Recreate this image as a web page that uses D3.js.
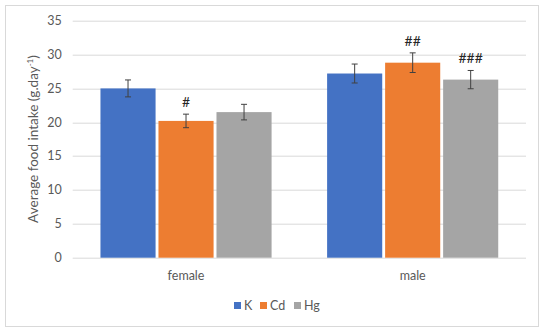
<!DOCTYPE html>
<html>
<head>
<meta charset="utf-8">
<script src="https://cdn.jsdelivr.net/npm/d3@7"></script>
<style>
  body { margin: 0; background: #fff; }
  text { font-family: Lato, "Open Sans", sans-serif; fill: #595959; }
</style>
</head>
<body>
<svg class="chart" width="550" height="334"></svg>
<script>
const groups = ['female', 'male'];
const series = ['K', 'Cd', 'Hg'];
const colors = ['#4472C4', '#ED7D31', '#A5A5A5'];
const means = {
  K:  [25.0, 27.2],
  Cd: [20.2, 28.8],
  Hg: [21.5, 26.3]
};
const errs = {
  K:  [1.25, 1.4],
  Cd: [1.0, 1.45],
  Hg: [1.15, 1.35]
};
const marks = {
  K:  ['', ''],
  Cd: ['#', '##'],
  Hg: ['', '###']
};
const yTicks = [0, 5, 10, 15, 20, 25, 30, 35];

const svg = d3.select('svg.chart');
const width = 550;
const height = 334;

// outer frame
svg.append('rect')
  .attr('x', 5.5).attr('y', 5.5)
  .attr('width', 533).attr('height', 321)
  .attr('fill', 'none')
  .attr('stroke', '#d9d9d9');

const margin = { top: 20.7, right: 24, bottom: 76.3, left: 72.7 };
const innerWidth = width - margin.left - margin.right;
const innerHeight = height - margin.top - margin.bottom;

const g = svg.append('g')
  .attr('transform', `translate(${margin.left}, ${margin.top})`);

const xScale = d3.scaleBand()
  .domain(groups)
  .range([0, innerWidth]);

const xInner = d3.scaleBand()
  .domain(series)
  .range([0, xScale.bandwidth() * 0.755])
  .paddingInner(0.05);

const yScale = d3.scaleLinear()
  .domain([0, 35])
  .range([innerHeight, 0]);

// gridlines
g.append('g')
  .selectAll('line').data(yTicks)
  .enter().append('line')
    .attr('x1', 0).attr('x2', innerWidth)
    .attr('y1', d => Math.round(yScale(d)) + 0.5)
    .attr('y2', d => Math.round(yScale(d)) + 0.5)
    .attr('stroke', '#d9d9d9');

// y tick labels
g.append('g')
  .selectAll('text').data(yTicks)
  .enter().append('text')
    .attr('x', -11)
    .attr('y', d => yScale(d))
    .attr('dy', '0.35em')
    .attr('text-anchor', 'end')
    .attr('font-size', 12.5)
    .text(d => d);

const groupOffset = (xScale.bandwidth() - xInner.range()[1]) / 2;

const rows = [];
groups.forEach((grp, i) => {
  series.forEach((s, j) => {
    rows.push({ group: grp, series: s, color: colors[j], value: means[s][i], err: errs[s][i], mark: marks[s][i] });
  });
});

const bx = d => xScale(d.group) + groupOffset + xInner(d.series);

g.selectAll('rect.bar').data(rows)
  .enter().append('rect')
    .attr('class', 'bar')
    .attr('x', bx)
    .attr('y', d => yScale(d.value))
    .attr('width', xInner.bandwidth())
    .attr('height', d => innerHeight - yScale(d.value))
    .attr('fill', d => d.color);

// error bars
const eb = g.selectAll('g.err').data(rows)
  .enter().append('g')
    .attr('class', 'err')
    .attr('stroke', '#404040')
    .attr('stroke-width', 1);
eb.append('line')
  .attr('x1', d => bx(d) + xInner.bandwidth() / 2)
  .attr('x2', d => bx(d) + xInner.bandwidth() / 2)
  .attr('y1', d => yScale(d.value + d.err))
  .attr('y2', d => yScale(d.value - d.err));
[1, -1].forEach(sign => {
  eb.append('line')
    .attr('x1', d => bx(d) + xInner.bandwidth() / 2 - 3)
    .attr('x2', d => bx(d) + xInner.bandwidth() / 2 + 3)
    .attr('y1', d => yScale(d.value + sign * d.err))
    .attr('y2', d => yScale(d.value + sign * d.err));
});

// significance marks
g.selectAll('text.mark').data(rows.filter(d => d.mark))
  .enter().append('text')
    .attr('class', 'mark')
    .attr('x', d => bx(d) + xInner.bandwidth() / 2)
    .attr('y', d => yScale(d.value + d.err) - 7)
    .attr('text-anchor', 'middle')
    .attr('font-size', 14)
    .style('fill', '#262626')
    .text(d => d.mark);

// x labels
g.selectAll('text.xlab').data(groups)
  .enter().append('text')
    .attr('class', 'xlab')
    .attr('x', d => xScale(d) + xScale.bandwidth() / 2)
    .attr('y', innerHeight + 18)
    .attr('dy', '0.35em')
    .attr('text-anchor', 'middle')
    .attr('font-size', 12.5)
    .text(d => d);

// y axis title
const yt = svg.append('text')
  .attr('transform', 'translate(38, 139) rotate(-90)')
  .attr('text-anchor', 'middle')
  .attr('font-size', 13.5);
yt.append('tspan').text('Average food intake (g.day');
yt.append('tspan').attr('dy', -5).attr('font-size', 8).text('-1');
yt.append('tspan').attr('dy', 5).text(')');

// legend
const legendX = [234, 260, 294];
const legend = svg.append('g').attr('transform', 'translate(0, 305.5)')
  .selectAll('g').data(series)
  .enter().append('g')
    .attr('transform', (d, i) => `translate(${legendX[i]}, 0)`);
legend.append('rect')
  .attr('x', 0).attr('y', -3.5)
  .attr('width', 7).attr('height', 7)
  .attr('fill', (d, i) => colors[i]);
legend.append('text')
  .attr('x', 10)
  .attr('dy', '0.35em')
  .attr('font-size', 12.5)
  .text(d => d);
</script>
</body>
</html>
